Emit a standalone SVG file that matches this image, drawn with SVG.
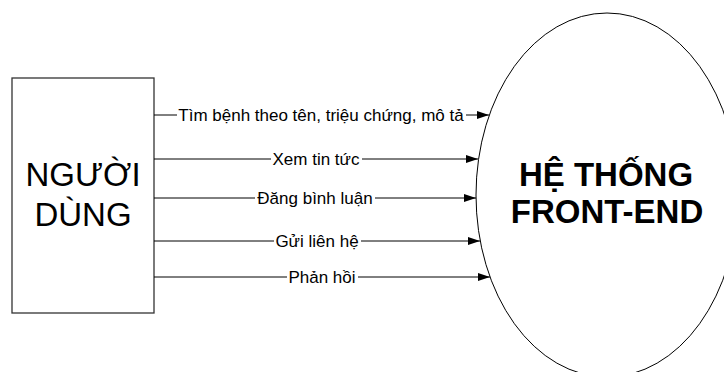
<svg xmlns="http://www.w3.org/2000/svg" width="724" height="372" viewBox="0 0 724 372">
<style>
.lbl{font-family:"Liberation Sans",Arial,sans-serif;font-size:17px;fill:#000;text-anchor:middle}
.bg{fill:#fff}
.big{font-family:"Liberation Sans",Arial,sans-serif;font-size:33px;fill:#000;text-anchor:middle}
.bold{font-weight:bold}
.ln{stroke:#000;stroke-width:1;fill:none;marker-end:url(#ah)}
</style>
<defs>
<marker id="ah" viewBox="0 0 12 8" refX="12" refY="4" markerWidth="12" markerHeight="8" markerUnits="userSpaceOnUse" orient="auto">
<path d="M0,0 L12,4 L0,8 Z" fill="#000"/>
</marker>
</defs>
<rect width="724" height="372" fill="#fff"/>
<g id="nguoi-dung">
<rect x="12" y="78" width="142" height="235" fill="#fff" stroke="#333" stroke-width="1.3"/>
<text class="big" x="83" y="186">NGƯỜI</text>
<text class="big" x="83" y="226">DÙNG</text>
</g>
<g id="he-thong">
<ellipse cx="607" cy="195" rx="131" ry="182" fill="#fff" stroke="#000" stroke-width="1"/>
<text class="big bold" x="606" y="186">HỆ THỐNG</text>
<text class="big bold" x="607" y="223">FRONT-END</text>
</g>
<g id="connectors">
<line class="ln" x1="154" y1="115" x2="489" y2="115"/>
<line class="ln" x1="154" y1="159" x2="478" y2="159"/>
<line class="ln" x1="154" y1="198" x2="476" y2="198"/>
<line class="ln" x1="154" y1="241" x2="480" y2="241"/>
<line class="ln" x1="154" y1="277" x2="490" y2="277"/>
<rect class="bg" x="177" y="107" width="289" height="16"/>
<rect class="bg" x="271" y="151" width="91" height="16"/>
<rect class="bg" x="255" y="190" width="120" height="16"/>
<rect class="bg" x="274" y="233" width="87" height="16"/>
<rect class="bg" x="287" y="269" width="71" height="16"/>
<text class="lbl" x="321" y="121">Tìm bệnh theo tên, triệu chứng, mô tả</text>
<text class="lbl" x="316" y="165">Xem tin tức</text>
<text class="lbl" x="315" y="204">Đăng bình luận</text>
<text class="lbl" x="317" y="247">Gửi liên hệ</text>
<text class="lbl" x="322" y="283">Phản hồi</text>
</g>
</svg>
